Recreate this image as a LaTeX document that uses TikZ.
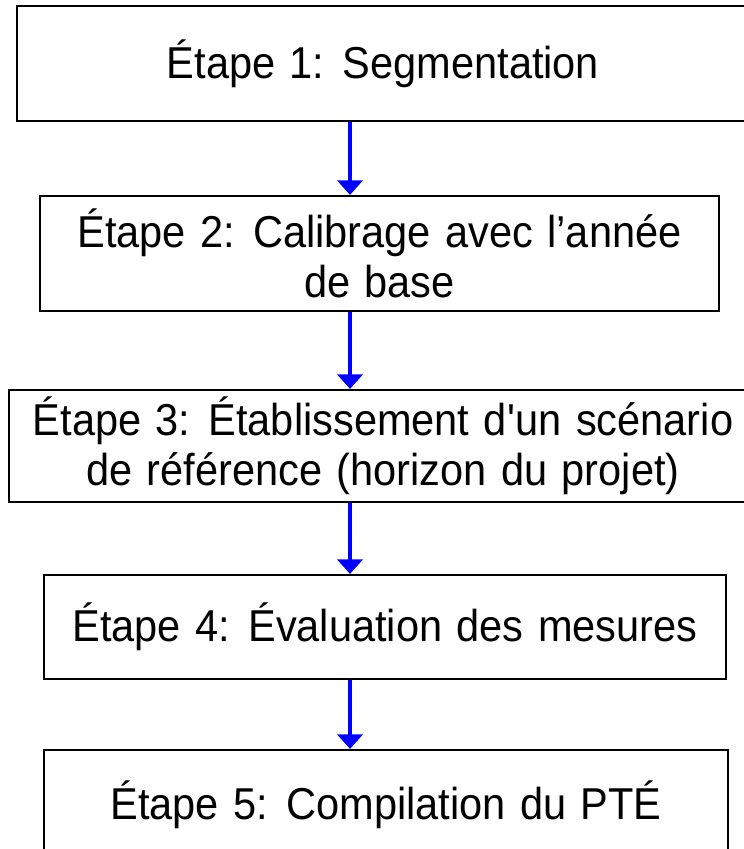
\documentclass[tikz,border=0pt]{standalone}
\usepackage{fontspec}
\setmainfont{Liberation Sans}[FakeStretch=0.93,WordSpace=1.25]
\usetikzlibrary{arrows.meta}

\begin{document}
\begin{tikzpicture}[x=0.75pt,y=0.75pt,yscale=-1,xscale=1,
  etape/.style={draw=black,line width=1.6pt,fill=white,inner sep=0pt,align=center,
    font=\fontsize{33.5}{37.5}\selectfont},
  fleche/.style={draw={rgb,255:red,0;green,0;blue,255},line width=2.8pt,
    -{Triangle[width=19pt,length=11pt]}}]
\useasboundingbox (0,0) rectangle (743,849);

%Shape: Rectangle
\node [etape,minimum width=549pt,minimum height=86.25pt] (e1) at (383,63.5) {Étape 1: Segmentation};
%Shape: Rectangle
\node [etape,minimum width=509.25pt,minimum height=86.25pt] (e2) at (379.5,253.5) {Étape 2: Calibrage avec l’année\\de base};
%Shape: Rectangle
\node [etape,minimum width=561pt,minimum height=84pt] (e3) at (383,446) {Étape 3: Établissement d\textquotesingle un scénario\\de référence (horizon du projet)};
%Shape: Rectangle
\node [etape,minimum width=511.5pt,minimum height=78pt] (e4) at (385,627) {Étape 4: Évaluation des mesures};
%Shape: Rectangle
\node [etape,minimum width=513pt,minimum height=82.5pt] (e5) at (386,805) {Étape 5: Compilation du PTÉ};

%Straight Lines
\coordinate (axe) at (350,0);
\foreach \a/\b in {e1/e2,e2/e3,e3/e4,e4/e5}
  \draw [fleche] (\a.south -| axe) -- (\b.north -| axe);

\end{tikzpicture}
\end{document}
